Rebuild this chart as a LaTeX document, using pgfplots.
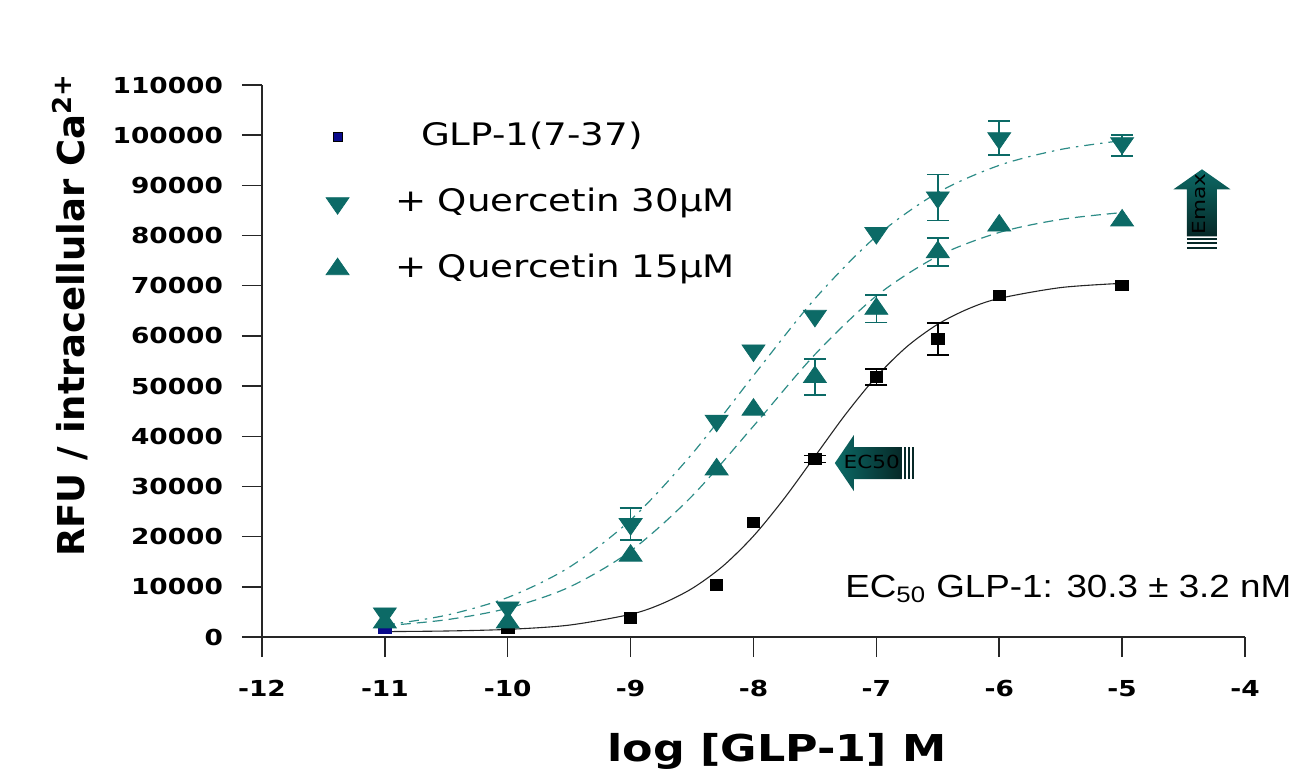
\documentclass[border=0pt]{standalone}
\usepackage{fontspec}
\setmainfont{DejaVu Sans}[FakeStretch=1.2]
\newfontfamily\ylabfont{DejaVu Sans}
\newfontfamily\arialfont{Liberation Sans}[FakeStretch=1.15]
\usepackage{pgfplots}
\pgfplotsset{compat=1.18}
\definecolor{teal1}{RGB}{12,106,102}
\definecolor{tealline}{RGB}{45,140,135}
\definecolor{navy1}{RGB}{10,10,140}
\definecolor{dark1}{RGB}{6,40,39}
\begin{document}
\begin{tikzpicture}
\begin{axis}[
  scale only axis, width=491.5pt, height=276pt,
  xmin=-12, xmax=-4, ymin=0, ymax=110000,
  scaled y ticks=false,
  axis lines=left, axis line style={-, line width=0.75pt, black!85},
  tick align=outside, major tick length=10pt,
  tick style={line width=0.75pt, black!85},
  xtick={-12,-11,-10,-9,-8,-7,-6,-5,-4},
  xticklabels={-12,-11,-10,-9,-8,-7,-6,-5,-4},
  ytick={0,10000,20000,30000,40000,50000,60000,70000,80000,90000,100000,110000},
  yticklabels={0,10000,20000,30000,40000,50000,60000,70000,80000,90000,100000,110000},
  tick label style={font=\bfseries\fontsize{11}{13}\selectfont},
  xticklabel style={yshift=-8pt},
  yticklabel style={xshift=-6pt},
  xlabel={log [GLP-1] M},
  xlabel style={font=\bfseries\fontsize{18.5}{22}\selectfont, at={(axis description cs:0.524,-0.226)}, anchor=base},
  ylabel={RFU / intracellular Ca\textsuperscript{2+}},
  ylabel style={font=\ylabfont\bfseries\fontsize{18.5}{22}\selectfont, at={(axis description cs:-0.195,0.583)}, anchor=center},
  clip=false,
  legend cell align=left,
  legend style={at={(axis cs:-11.53,86450)}, anchor=west, draw=none, fill=none,
    font=\fontsize{15.5}{19}\selectfont, row sep=13pt,
    nodes={inner sep=2pt, text height=12pt, text depth=4pt},
    /tikz/every odd column/.append style={column sep=21pt}},
]
% fitted curves
\addplot[black!85, line width=0.55pt, smooth, forget plot] coordinates {
(-11,1074) (-10.5,1197) (-10,1521) (-9.5,2369) (-9,4528) (-8.75,6578) (-8.5,9665)
(-8.25,14106) (-8,20120) (-7.75,27606) (-7.5,36000) (-7.25,44396) (-7,51880)
(-6.75,57895) (-6.5,62333) (-6.25,65421) (-6,67470) (-5.5,69631) (-5,70479)};
\addplot[tealline, line width=0.6pt, smooth, dash pattern=on 5pt off 3pt on 1.2pt off 3pt, forget plot] coordinates {
(-11,2354) (-10.5,4342) (-10,7878) (-9.5,13887) (-9,23320) (-8.5,36488) (-8,52100)
(-7.5,67410) (-7,79867) (-6.5,88566) (-6,93990) (-5.5,97154) (-5,98922)};
\addplot[tealline, line width=0.6pt, smooth, dash pattern=on 5pt off 3pt, forget plot] coordinates {
(-11,2239) (-10.5,3437) (-10,5727) (-9.5,9937) (-9,17141) (-8.5,28087) (-8,42033)
(-7.5,56302) (-7,67971) (-6.5,75896) (-6,80618) (-5.5,83213) (-5,84581)};
% error bars
\addplot[only marks, mark=none, forget plot, error bars/.cd, y dir=both, y explicit,
  error bar style={black, solid, line width=0.8pt},
  error mark options={rotate=90, black, mark size=5.5pt, line width=0.8pt}] coordinates {
(-7.5,35500) +- (0,700) (-7,51800) +- (0,1600) (-6.5,59400) +- (0,3200)};
\addplot[only marks, mark=none, forget plot, error bars/.cd, y dir=both, y explicit,
  error bar style={teal1, solid, line width=0.8pt},
  error mark options={rotate=90, teal1, mark size=5.5pt, line width=0.8pt}] coordinates {
(-9,22500) +- (0,3200) (-6.5,87600) +- (0,4600) (-6,99400) +- (0,3400)
(-7.5,51800) +- (0,3600) (-7,65400) +- (0,2700) (-6.5,76700) +- (0,2800)};
\addplot[only marks, mark=none, forget plot, error bars/.cd, y dir=both, y explicit,
  error bar style={teal1, solid, line width=0.8pt},
  error mark options={rotate=90, teal1, mark size=5.5pt, line width=0.8pt}] coordinates {
(-5,98400) += (0,1600) -= (0,2600)};
% data points
\addplot[only marks, mark=square*, mark size=2.6pt, mark options={xscale=1.2, black, fill=black}, forget plot] coordinates {
(-10,1800) (-9,3800) (-8.3,10400) (-8,22800) (-7.5,35500) (-7,51800) (-6.5,59400) (-6,68100) (-5,70100)};
\addplot[only marks, mark=square*, mark size=2.6pt, mark options={xscale=1.2, navy1, fill=navy1}, forget plot] coordinates {(-11,1800)};
\addplot[only marks, mark=triangle*, mark size=5.5pt, mark options={xscale=1.2, teal1, fill=teal1}, forget plot] coordinates {
(-11,2900) (-10,2900) (-9,16200) (-8.3,33400) (-8,45300) (-7.5,51800) (-7,65400) (-6.5,76700) (-6,82000) (-5,83000)};
\addplot[only marks, mark=triangle*, mark size=5.5pt, mark options={rotate=180, xscale=1.2, teal1, fill=teal1}, forget plot] coordinates {
(-11,4700) (-10,5900) (-9,22500) (-8.3,43100) (-8,57100) (-7.5,64000) (-7,80500) (-6.5,87600) (-6,99400) (-5,98400)};
% legend
\addlegendimage{only marks, mark=square*, mark size=2.2pt, mark options={draw=black, fill=navy1}}
\addlegendentry{\hspace{13pt}GLP-1(7-37)}
\addlegendimage{only marks, mark=triangle*, mark size=5.5pt, mark options={rotate=180, xscale=1.2, draw=teal1, fill=teal1}}
\addlegendentry{+ Quercetin 30µM}
\addlegendimage{only marks, mark=triangle*, mark size=5.5pt, mark options={xscale=1.2, draw=teal1, fill=teal1}}
\addlegendentry{+ Quercetin 15µM}
% anchor points for the two annotation arrows
\coordinate (ectip) at (axis cs:-7.338,34660);
\coordinate (emtip) at (axis cs:-4.35,93200);
\coordinate (ectext) at (axis cs:-7.037,34860);
\coordinate (emtext) at (axis cs:-4.376,86250);
\node[font=\arialfont\fontsize{16}{19}\selectfont, anchor=base west, inner sep=0pt]
  at (axis cs:-7.256,7970) {EC\textsubscript{50} GLP-1: 30.3 ± 3.2 nM};
\end{axis}
% EC50 arrow
\path[left color=teal1, right color=dark1] (ectip) -- ++(9.5pt,14pt) -- ++(0,-6pt)
  -- ++(24pt,0) -- ++(0,-16pt) -- ++(-24pt,0) -- ++(0,-6pt) -- cycle;
\draw[dark1, line width=1pt] (ectip) ++(35pt,-8pt) -- ++(0,16pt);
\draw[dark1, line width=1pt] (ectip) ++(37pt,-8pt) -- ++(0,16pt);
\draw[dark1, line width=1pt] (ectip) ++(39pt,-8pt) -- ++(0,16pt);
\node[font=\fontsize{9}{10}\selectfont, inner sep=0pt] at (ectext) {EC50};
% Emax arrow
\path[top color=teal1, bottom color=dark1] (emtip) -- ++(14.25pt,-10pt) -- ++(-6.75pt,0)
  -- ++(0,-23.5pt) -- ++(-15pt,0) -- ++(0,23.5pt) -- ++(-6.75pt,0) -- cycle;
\draw[dark1, line width=1pt] (emtip) ++(-7.5pt,-35pt) -- ++(15pt,0);
\draw[dark1, line width=1pt] (emtip) ++(-7.5pt,-37pt) -- ++(15pt,0);
\draw[dark1, line width=1pt] (emtip) ++(-7.5pt,-39.5pt) -- ++(15pt,0);
\node[font=\fontsize{9}{10}\selectfont, inner sep=0pt, rotate=90] at (emtext) {Emax};
\pgfresetboundingbox
\path[use as bounding box] (-131pt,-68pt) rectangle (514.5pt,318.5pt);
\end{tikzpicture}
\end{document}
